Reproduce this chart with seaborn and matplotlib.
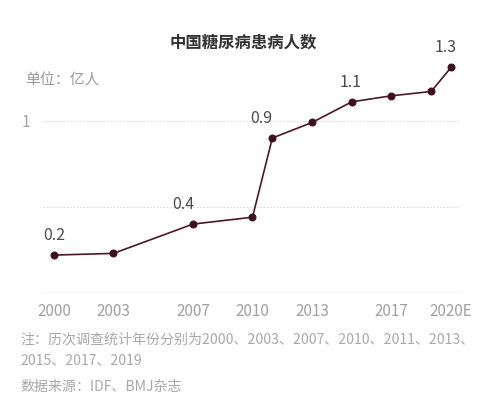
import matplotlib
matplotlib.use('Agg')
import matplotlib.pyplot as plt
import seaborn as sns
import pandas as pd

# 数据
years = [2000, 2003, 2007, 2010, 2011, 2013, 2015, 2017, 2019, 2020]
patients = [0.22, 0.23, 0.40, 0.44, 0.90, 0.99, 1.11, 1.145, 1.17, 1.31]
tick_years = [2000, 2003, 2007, 2010, 2013, 2017, 2020]
tick_labels = ['2000', '2003', '2007', '2010', '2013', '2017', '2020E']
label_years = [2000, 2007, 2011, 2015, 2020]
label_texts = ['0.2', '0.4', '0.9', '1.1', '1.3']

df = pd.DataFrame({'year': years, 'value': patients})

sns.set_style('white')
plt.rcParams['font.family'] = ['Noto Sans CJK SC', 'DejaVu Sans']

fig = plt.figure(figsize=(5, 4.15), dpi=100)
ax = fig.add_axes([0.086, 0.294, 0.834, 0.581])

line_color = '#4d1726'
sns.lineplot(data=df, x='year', y='value', ax=ax, color=line_color,
             linewidth=1.2, marker='o', markersize=5,
             markerfacecolor='#3f0f1d', markeredgecolor='#3f0f1d')

ax.set_xlim(1999.45, 2020.45)
ax.set_ylim(0, 1.4)

# 网格虚线
for g in [0.5, 1.0]:
    ax.axhline(g, color='#d8d8d8', linewidth=0.8, linestyle=(0, (1.5, 1.5)), zorder=0)
ax.axhline(0, color='#cfcfcf', linewidth=1.0, zorder=0)

for s in ax.spines.values():
    s.set_visible(False)

ax.set_xticks(tick_years)
ax.set_xticklabels(tick_labels)
ax.set_yticks([1])
ax.set_yticklabels(['1'])
ax.tick_params(axis='x', length=0, pad=7, labelsize=11, labelcolor='#a0a0a0')
ax.tick_params(axis='y', length=0, pad=9, labelsize=11, labelcolor='#a0a0a0')
ax.set_xlabel('')
ax.set_ylabel('')

# 数值标签
offsets = {2000: (0, 8), 2007: (-7, 8), 2011: (-8, 8), 2015: (-1, 8), 2020: (-4, 8)}
for yr, txt in zip(label_years, label_texts):
    val = patients[years.index(yr)]
    dx, dy = offsets[yr]
    ax.annotate(txt, (yr, val), xytext=(dx, dy), textcoords='offset points',
                ha='center', va='bottom', fontsize=11.5, color='#4a4a4a')

fig.text(0.486, 0.898, '中国糖尿病患病人数', ha='center', va='center',
         fontsize=11.8, fontweight='bold', color='#333333')
fig.text(0.05, 0.807, '单位：亿人', ha='left', va='center',
         fontsize=10.7, color='#9a9a9a')

fig.text(0.04, 0.181, '注：历次调查统计年份分别为2000、2003、2007、2010、2011、2013、',
         ha='left', va='center', fontsize=10.1, color='#a8a8a8')
fig.text(0.04, 0.133, '2015、2017、2019',
         ha='left', va='center', fontsize=10.1, color='#a8a8a8')
fig.text(0.04, 0.067, '数据来源：IDF、BMJ杂志',
         ha='left', va='center', fontsize=10.1, color='#a8a8a8')

fig.savefig('out.png', dpi=100)
